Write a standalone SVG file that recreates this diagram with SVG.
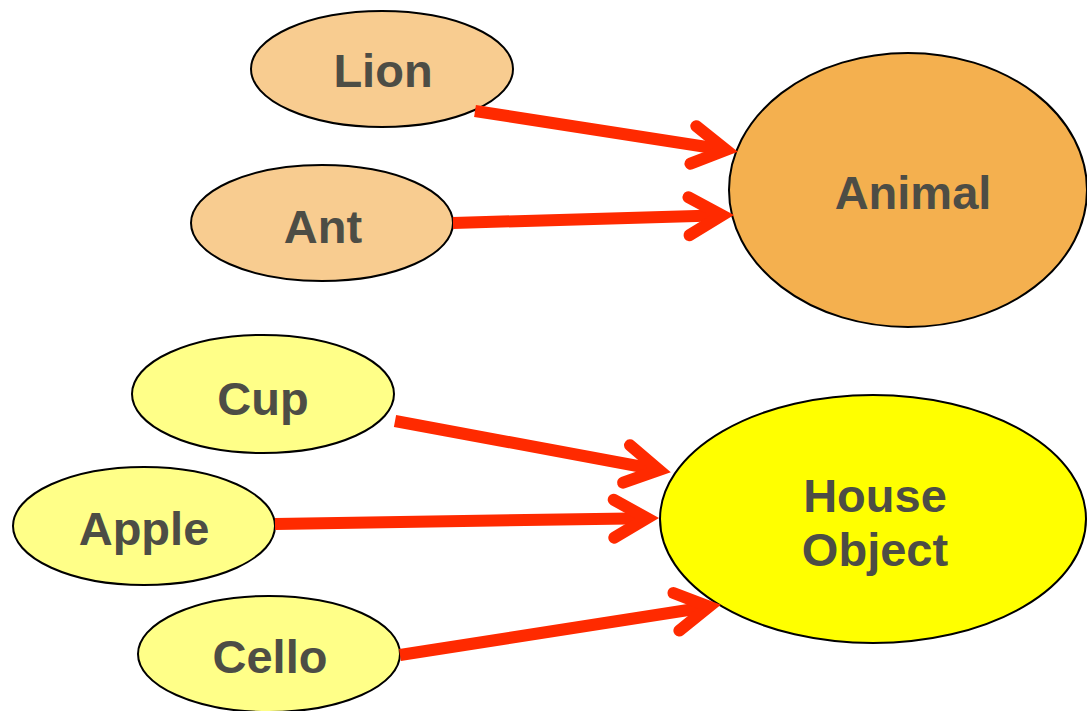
<svg xmlns="http://www.w3.org/2000/svg" width="1087" height="711" viewBox="0 0 1087 711">
  <style>
    .node { stroke: #000; stroke-width: 2; }
    .small-animal { fill: #f8cc90; }
    .big-animal { fill: #f4b04f; }
    .small-object { fill: #ffff88; }
    .big-object { fill: #ffff00; }
    .label { font-family: "Liberation Sans", Arial, sans-serif; font-weight: bold; font-size: 47px; fill: #4d4d45; text-anchor: middle; }
    .link { fill: none; stroke: #ff2a00; stroke-width: 12; stroke-linecap: butt; }
  </style>
  <defs>
    <marker id="chevron" markerUnits="userSpaceOnUse" refX="0" refY="0" markerWidth="60" markerHeight="60" orient="auto" overflow="visible">
      <path d="M-33,-19 L0,0 L-33,19" fill="none" stroke="#ff2a00" stroke-width="12" stroke-linecap="round" stroke-linejoin="miter" stroke-miterlimit="10"/>
    </marker>
  </defs>

  <g id="lion">
    <ellipse class="node small-animal" cx="382" cy="69" rx="131" ry="58"/>
    <text class="label" x="383" y="87">Lion</text>
  </g>
  <g id="ant">
    <ellipse class="node small-animal" cx="322" cy="223" rx="131" ry="58"/>
    <text class="label" x="323" y="243">Ant</text>
  </g>
  <g id="animal">
    <ellipse class="node big-animal" cx="908" cy="190" rx="179" ry="137"/>
    <text class="label" x="913" y="209">Animal</text>
  </g>
  <g id="cup">
    <ellipse class="node small-object" cx="263" cy="394" rx="131" ry="59"/>
    <text class="label" x="263" y="415">Cup</text>
  </g>
  <g id="apple">
    <ellipse class="node small-object" cx="144" cy="526" rx="131" ry="59"/>
    <text class="label" x="144" y="545">Apple</text>
  </g>
  <g id="cello">
    <ellipse class="node small-object" cx="269" cy="654" rx="131" ry="58"/>
    <text class="label" x="270" y="673">Cello</text>
  </g>
  <g id="house-object">
    <ellipse class="node big-object" cx="873" cy="519" rx="213" ry="124"/>
    <text class="label" x="875" y="512">House</text>
    <text class="label" x="875" y="566">Object</text>
  </g>

  <g id="connectors">
    <path class="link" d="M475,111 L726,150" marker-end="url(#chevron)"/>
    <path class="link" d="M453,223 L722,215.3" marker-end="url(#chevron)"/>
    <path class="link" d="M395,421 L659,470" marker-end="url(#chevron)"/>
    <path class="link" d="M275,524 L647,518.2" marker-end="url(#chevron)"/>
    <path class="link" d="M400,655 L709,606.7" marker-end="url(#chevron)"/>
  </g>
</svg>
